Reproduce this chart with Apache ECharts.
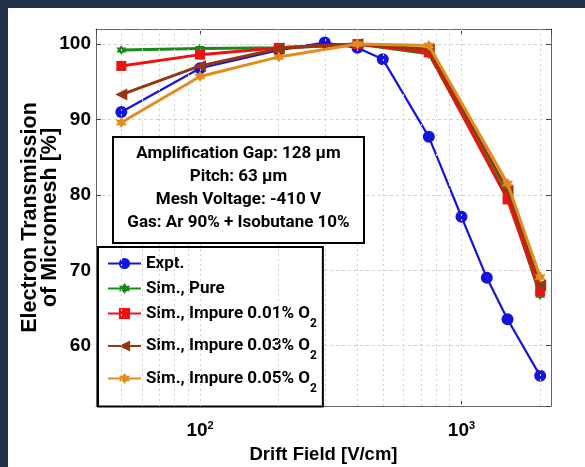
<!DOCTYPE html>
<html>
<head>
<meta charset="utf-8">
<script src="https://cdn.jsdelivr.net/npm/echarts@6/dist/echarts.min.js"></script>
<style>
  html, body { margin: 0; padding: 0; width: 585px; height: 467px; overflow: hidden; background: #22314b; }
  #chart { position: absolute; left: 8px; top: 8px; width: 577px; height: 459px; background: #ffffff; }
</style>
</head>
<body>
<div id="chart"></div>
<script>
// Drift field values [V/cm]
const fieldExpt = [50, 100, 200, 300, 400, 500, 750, 1000, 1250, 1500, 2000];
const fieldSim = [50, 100, 200, 400, 750, 1500, 2000];

// Electron transmission [%]
const transExpt = [91.0, 96.8, 99.2, 100.2, 99.5, 98.0, 87.7, 77.1, 69.0, 63.5, 56.0];
const transSimPure = [99.2, 99.4, 99.5, 100.0, 98.7, 79.8, 66.7];
const transSimO2_001 = [97.1, 98.6, 99.5, 100.0, 98.9, 79.4, 67.2];
const transSimO2_003 = [93.3, 97.1, 99.4, 100.0, 99.3, 80.6, 68.0];
const transSimO2_005 = [89.6, 95.7, 98.3, 100.0, 99.8, 81.5, 69.1];

const seriesNames = ['Expt.', 'Sim., Pure', 'Sim., Impure 0.01% O2', 'Sim., Impure 0.03% O2', 'Sim., Impure 0.05% O2'];

// Minor and major vertical grid positions of the log axis
const xGridValues = [50, 60, 70, 80, 90, 100, 200, 300, 400, 500, 600, 700, 800, 900, 1000, 2000];
const xTickValues = [100, 1000];

const infoLines = ['Amplification Gap: 128 \u03bcm', 'Pitch: 63 \u03bcm', 'Mesh Voltage: -410 V', 'Gas: Ar 90% + Isobutane 10%'];

const hexagram = 'path://M0,-1L0.289,-0.5L0.866,-0.5L0.577,0L0.866,0.5L0.289,0.5L0,1L-0.289,0.5L-0.866,0.5L-0.577,0L-0.866,-0.5L-0.289,-0.5Z';

const narrowFont = '"Liberation Sans Narrow", "Liberation Sans", Arial, sans-serif';
const textFont = 'Roboto, "Liberation Sans", Arial, sans-serif';
const titleFont = '"Liberation Sans", Arial, sans-serif';

const styles = [
  { color: '#1414dc', symbol: 'circle', size: 12, width: 2.2, rotate: 0 },
  { color: '#178a17', symbol: hexagram, size: 10, width: 3, rotate: 0 },
  { color: '#ec1313', symbol: 'rect', size: 10, width: 3, rotate: 0 },
  { color: '#96360f', symbol: 'triangle', size: 12, width: 3, rotate: 90 },
  { color: '#e38c1e', symbol: hexagram, size: 11, width: 3, rotate: 0 }
];

const seriesData = [
  [fieldExpt, transExpt],
  [fieldSim, transSimPure],
  [fieldSim, transSimO2_001],
  [fieldSim, transSimO2_003],
  [fieldSim, transSimO2_005]
];

const series = seriesData.map(function (pair, i) {
  const st = styles[i];
  return {
    name: seriesNames[i],
    type: 'line',
    z: 3 + i,
    data: pair[0].map(function (x, j) { return [x, pair[1][j]]; }),
    symbol: st.symbol,
    symbolSize: st.size,
    symbolRotate: st.rotate,
    showAllSymbol: true,
    itemStyle: { color: st.color, borderWidth: 0 },
    lineStyle: { color: st.color, width: st.width },
    emphasis: { disabled: true }
  };
});

// Dotted vertical grid of the logarithmic field axis
series.unshift({
  name: 'grid',
  type: 'line',
  z: 1,
  data: [],
  silent: true,
  markLine: {
    silent: true,
    symbol: ['none', 'none'],
    label: { show: false },
    animation: false,
    lineStyle: { color: '#cfcfcf', type: [2, 3], width: 1 },
    data: xGridValues.map(function (v) { return { xAxis: v }; })
  }
});

function powerLabel(value) {
  const e = Math.log10(value);
  const r = Math.round(e);
  if (Math.abs(e - r) < 1e-6 && xTickValues.indexOf(value) >= 0) {
    return '{b|10}{s|' + r + '}';
  }
  return '';
}

function legendLabel(name) {
  if (/O2$/.test(name)) {
    return '{m|' + name.slice(0, -1) + '}{s|2}';
  }
  return '{t|' + name + '}';
}

const chart = echarts.init(document.getElementById('chart'), null, { renderer: 'canvas' });

chart.setOption({
  animation: false,
  grid: { left: 88, top: 21, right: 34, bottom: 61, show: false, containLabel: false, outerBoundsMode: 'none' },
  xAxis: [{
    type: 'log',
    logBase: 10,
    min: 40,
    max: 2200,
    position: 'bottom',
    name: 'Drift Field [V/cm]',
    nameLocation: 'middle',
    nameGap: 39,
    nameMoveOverlap: false,
    nameTextStyle: { fontFamily: titleFont, fontWeight: 'bold', fontSize: 18.5, color: '#000' },
    axisLine: { show: true, onZero: false, lineStyle: { color: '#666', width: 1 } },
    axisTick: { show: true, inside: true, length: 5, lineStyle: { color: '#444' } },
    splitLine: { show: false },
    axisLabel: {
      show: true,
      margin: 14,
      showMinLabel: false,
      showMaxLabel: false,
      formatter: powerLabel,
      rich: {
        b: { fontFamily: narrowFont, fontWeight: 'bold', fontSize: 19, lineHeight: 22, color: '#000' },
        s: { fontFamily: narrowFont, fontWeight: 'bold', fontSize: 11, lineHeight: 11, verticalAlign: 'top', color: '#000' }
      }
    }
  }, {
    type: 'log',
    logBase: 10,
    min: 40,
    max: 2200,
    position: 'top',
    axisLine: { show: true, onZero: false, lineStyle: { color: '#666', width: 1 } },
    axisTick: { show: true, inside: true, length: 5, lineStyle: { color: '#444' } },
    axisLabel: { show: false },
    splitLine: { show: false }
  }],
  yAxis: [{
    type: 'value',
    min: 52,
    max: 102,
    position: 'left',
    name: 'Electron Transmission\nof Micromesh [%]',
    nameLocation: 'middle',
    nameGap: 36,
    nameMoveOverlap: false,
    nameTextStyle: { fontFamily: titleFont, fontWeight: 'bold', fontSize: 21.5, lineHeight: 20, color: '#000' },
    axisLine: { show: true, onZero: false, lineStyle: { color: '#666', width: 1 } },
    axisTick: { show: true, inside: true, length: 5, lineStyle: { color: '#444' } },
    axisLabel: {
      margin: 5,
      showMinLabel: false,
      showMaxLabel: false,
      fontFamily: narrowFont, fontWeight: 'bold', fontSize: 19, color: '#000'
    },
    splitLine: { show: true, lineStyle: { color: '#cfcfcf', type: [3, 3], width: 1 } }
  }, {
    type: 'value',
    min: 52,
    max: 102,
    position: 'right',
    axisLine: { show: true, onZero: false, lineStyle: { color: '#666', width: 1 } },
    axisTick: { show: true, inside: true, length: 5, lineStyle: { color: '#444' } },
    axisLabel: { show: false },
    splitLine: { show: false }
  }],
  legend: {
    orient: 'vertical',
    left: 90,
    top: 239,
    data: seriesNames,
    backgroundColor: '#fff',
    borderColor: '#000',
    borderWidth: 2,
    borderRadius: 0,
    padding: [8, 6, 12, 9],
    itemWidth: 33,
    itemHeight: 14,
    itemGap: 8,
    selectedMode: false,
    formatter: legendLabel,
    textStyle: {
      fontFamily: textFont, fontWeight: 'bold', fontSize: 17, color: '#000',
      rich: {
        t: { fontFamily: textFont, fontWeight: 'bold', fontSize: 17, lineHeight: 20, color: '#000' },
        m: { fontFamily: textFont, fontWeight: 'bold', fontSize: 17, lineHeight: 32, color: '#000' },
        s: { fontFamily: textFont, fontWeight: 'bold', fontSize: 12, lineHeight: 14, verticalAlign: 'bottom', color: '#000' }
      }
    }
  },
  graphic: [{
    type: 'group',
    left: 104,
    top: 128,
    z: 100,
    children: [{
      type: 'rect',
      z: 100,
      shape: { x: 0, y: 0, width: 251, height: 106 },
      style: { fill: '#fff', stroke: '#000', lineWidth: 2 }
    }, {
      type: 'text',
      z: 101,
      x: 125.5,
      y: 51,
      style: {
        text: infoLines.join('\n'),
        align: 'center',
        verticalAlign: 'middle',
        fontFamily: textFont,
        fontWeight: 'bold',
        fontSize: 17,
        lineHeight: 23,
        fill: '#000'
      }
    }]
  }],
  series: series
});
</script>
</body>
</html>
